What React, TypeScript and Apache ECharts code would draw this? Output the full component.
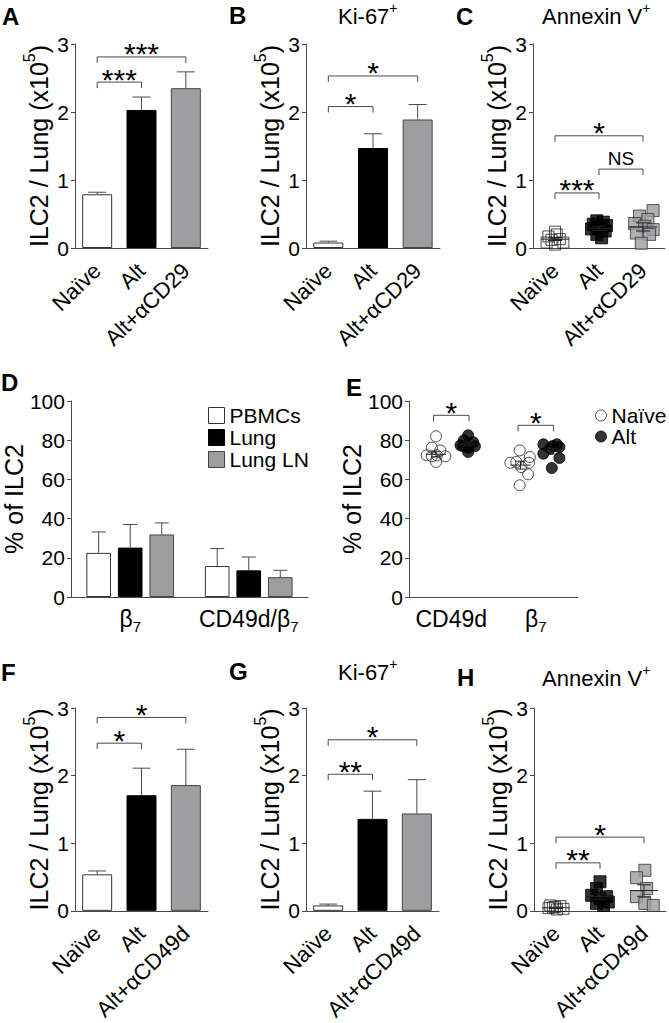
import React, { useEffect, useRef } from 'react';
import * as echarts from 'echarts';

const FONT = 'Arial, "Liberation Sans", Helvetica, sans-serif';
const INK = '#000000';
const LINE = '#4a4a4a';
const WHITE = '#ffffff';
const BLACK = '#000000';
const GRAY_FILL = '#9e9ea1';

// ---------- categories ----------
const catsCD29 = ['Naïve', 'Alt', 'Alt+αCD29'];
const catsCD49d = ['Naïve', 'Alt', 'Alt+αCD49d'];
const catsD = ['β7', 'CD49d/β7'];
const catsE = ['CD49d', 'β7'];
const countMax = 3;
const pctMax = 100;

// ---------- bar panels (mean, SEM) ----------
const aMean = [0.79, 2.03, 2.35];
const aSem = [0.03, 0.19, 0.24];
const bMean = [0.08, 1.47, 1.89];
const bSem = [0.02, 0.21, 0.22];
const fMean = [0.54, 1.71, 1.86];
const fSem = [0.05, 0.40, 0.53];
const gMean = [0.08, 1.36, 1.44];
const gSem = [0.02, 0.41, 0.50];

// ---------- panel D ----------
const dNames = ['PBMCs', 'Lung', 'Lung LN'];
const dPBMCs = [22.5, 15.8];
const dPBMCsSem = [10.7, 8.9];
const dLung = [25.2, 13.6];
const dLungSem = [11.8, 6.8];
const dLungLN = [31.9, 10.1];
const dLungLNSem = [5.9, 3.5];

// ---------- panel C points: [jitter, value] ----------
const cNaive = [[0, 0.24], [-0.15, 0.17], [0.11, 0.13], [-0.08, 0.12], [0.19, 0.08], [-0.19, 0.08], [0, 0.05], [0.04, 0.2]];
const cAlt = [[-0.05, 0.4], [0.1, 0.38], [-0.13, 0.35], [0.17, 0.33], [-0.02, 0.3], [-0.17, 0.28], [0.14, 0.25], [-0.05, 0.2], [0.06, 0.15]];
const cAltAb = [[0.23, 0.55], [-0.08, 0.47], [0.11, 0.42], [-0.19, 0.36], [0.04, 0.32], [0.23, 0.27], [-0.15, 0.22], [0.15, 0.2], [-0.04, 0.07]];
const cMean = [0.13, 0.29, 0.31];
const cSem = [0.02, 0.03, 0.06];

// ---------- panel H points ----------
const hNaive = [[-0.13, 0.08], [0.1, 0.07], [-0.02, 0.06], [-0.17, 0.04], [0.17, 0.03], [0.02, 0.02], [-0.07, 0.05]];
const hAlt = [[0, 0.43], [-0.08, 0.33], [-0.19, 0.23], [0.15, 0.21], [0, 0.18], [0.19, 0.13], [-0.08, 0.11], [0.08, 0.08]];
const hAltAb = [[0.02, 0.6], [-0.17, 0.49], [0.06, 0.33], [-0.17, 0.21], [0.02, 0.11], [0.21, 0.08]];
const hMean = [0.045, 0.21, 0.3];
const hSem = [0.01, 0.04, 0.085];

// ---------- panel E points: [jitter, value] ----------
const eNaiveCD49d = [[-0.18, 82.0], [-0.23, 76.2], [-0.13, 74.8], [-0.29, 72.3], [-0.17, 72.3], [-0.07, 71.8], [-0.23, 71.8], [-0.18, 68.9]];
const eAltCD49d = [[0.2, 82.5], [0.15, 80.0], [0.26, 79.0], [0.11, 77.4], [0.28, 76.9], [0.2, 76.2], [0.14, 77.0], [0.2, 74.0]];
const eNaiveB7 = [[-0.19, 74.8], [-0.07, 71.4], [-0.3, 68.5], [-0.23, 68.9], [-0.08, 68.5], [-0.17, 66.3], [-0.09, 62.6], [-0.19, 57.0]];
const eAltB7 = [[0.09, 77.9], [0.25, 77.9], [0.17, 75.7], [0.28, 76.5], [0.09, 73.1], [0.28, 70.9], [0.19, 65.8], [0.2, 77.0]];
const eNaiveMean = [72.8, 67.3];
const eNaiveSem = [1.3, 2.0];
const eAltMean = [78.0, 74.4];
const eAltSem = [1.0, 1.5];
const eNaiveOff = -0.18;
const eAltOff = 0.2;

// ---------- significance brackets: [from, to, height, label] ----------
type Bracket = [number, number, number, string];
const bracketsA: Bracket[] = [[0, 1, 2.44, '***'], [0, 2, 2.81, '***']];
const bracketsB: Bracket[] = [[0, 1, 2.08, '*'], [0, 2, 2.53, '*']];
const bracketsC: Bracket[] = [[0, 1, 0.81, '***'], [1, 2, 1.16, 'NS'], [0, 2, 1.65, '*']];
const bracketsE: Bracket[] = [[-0.21, 0.21, 92.7, '*'], [0.79, 1.21, 87.6, '*']];
const bracketsF: Bracket[] = [[0, 1, 2.48, '*'], [0, 2, 2.86, '*']];
const bracketsG: Bracket[] = [[0, 1, 2.02, '**'], [0, 2, 2.53, '*']];
const bracketsH: Bracket[] = [[0, 1, 0.71, '**'], [0, 2, 1.09, '*']];

// ---------- layout ----------
const grids = [
  { left: 75, top: 44, width: 133, height: 204 },
  { left: 306, top: 44, width: 134, height: 204 },
  { left: 533, top: 44, width: 132, height: 204 },
  { left: 67, top: 401, width: 241, height: 196 },
  { left: 409, top: 401, width: 169, height: 196 },
  { left: 75, top: 708, width: 133, height: 203 },
  { left: 306, top: 708, width: 133, height: 203 },
  { left: 534, top: 708, width: 132, height: 203 },
];
const panelCats = [catsCD29, catsCD29, catsCD29, catsD, catsE, catsCD49d, catsCD49d, catsCD49d];
const letters = ['A', 'B', 'C', 'D', 'E', 'F', 'G', 'H'];
const letterPos = [[2, 4], [229, 3], [456, 4], [1, 370], [346, 375], [1, 660], [229, 659], [457, 665]];
const D_CAT_GAP = 0.26;
const D_BAR_GAP = 0.28;
const barFills = [WHITE, BLACK, GRAY_FILL];
const barBorders = ['#333333', '#000000', '#444444'];

function bracketSeries(panel: number, list: Bracket[]) {
  return {
    type: 'custom', name: 'brk' + panel, xAxisIndex: 2 * panel + 1, yAxisIndex: panel, silent: true, z: 6,
    data: list.map((b) => [b[0], b[1], b[2]]),
    renderItem: (params: any, api: any) => {
      const b = list[params.dataIndex];
      const p1 = api.coord([api.value(0), api.value(2)]);
      const p2 = api.coord([api.value(1), api.value(2)]);
      const drop = 6;
      const isNS = b[3] === 'NS';
      return {
        type: 'group',
        children: [
          { type: 'polyline', shape: { points: [[p1[0], p1[1] + drop], [p1[0], p1[1]], [p2[0], p2[1]], [p2[0], p2[1] + drop]] }, style: { stroke: LINE, lineWidth: 1, fill: null } },
          { type: 'text', x: (p1[0] + p2[0]) / 2, y: p1[1] + (isNS ? -11 : -3), style: { text: b[3], fontSize: isNS ? 19 : 30, fontFamily: FONT, fill: INK, align: 'center', verticalAlign: 'middle' } },
        ],
      };
    },
  };
}

function errorBarSeries(panel: number, means: number[], sems: number[], slot = 0, slots = 1) {
  return {
    type: 'custom', name: 'err' + panel + '-' + slot, xAxisIndex: 2 * panel + 1, yAxisIndex: panel, silent: true, z: 4,
    data: means.map((m, i) => [i, m, sems[i]]),
    renderItem: (params: any, api: any) => {
      const x = api.value(0), m = api.value(1), s = api.value(2);
      const base = api.coord([x, m]);
      const tip = api.coord([x, m + s]);
      let off = 0;
      if (slots > 1) {
        const band = api.size([1, 0])[0];
        const w = (band * (1 - D_CAT_GAP)) / (slots + (slots - 1) * D_BAR_GAP);
        off = (slot - (slots - 1) / 2) * w * (1 + D_BAR_GAP);
      }
      const cx = base[0] + off;
      const cap = slots > 1 ? 7 : 9;
      return {
        type: 'group',
        children: [
          { type: 'line', shape: { x1: cx, y1: base[1], x2: cx, y2: tip[1] }, style: { stroke: LINE, lineWidth: 1 } },
          { type: 'line', shape: { x1: cx - cap, y1: tip[1], x2: cx + cap, y2: tip[1] }, style: { stroke: LINE, lineWidth: 1 } },
        ],
      };
    },
  };
}

function meanSemSeries(panel: number, xs: number[], means: number[], sems: number[], half: number, cap: number) {
  return {
    type: 'custom', name: 'ms' + panel + '_' + xs[0], xAxisIndex: 2 * panel + 1, yAxisIndex: panel, silent: true, z: 5,
    data: means.map((m, i) => [xs[i], m, sems[i]]),
    renderItem: (params: any, api: any) => {
      const x = api.value(0), m = api.value(1), s = api.value(2);
      const c = api.coord([x, m]);
      const hi = api.coord([x, m + s]);
      const lo = api.coord([x, m - s]);
      const st = { stroke: '#222222', lineWidth: 1 };
      return {
        type: 'group',
        children: [
          { type: 'line', shape: { x1: c[0] - half, y1: c[1], x2: c[0] + half, y2: c[1] }, style: st },
          { type: 'line', shape: { x1: c[0], y1: hi[1], x2: c[0], y2: lo[1] }, style: st },
          { type: 'line', shape: { x1: c[0] - cap, y1: hi[1], x2: c[0] + cap, y2: hi[1] }, style: st },
          { type: 'line', shape: { x1: c[0] - cap, y1: lo[1], x2: c[0] + cap, y2: lo[1] }, style: st },
        ],
      };
    },
  };
}

function barSeries(panel: number, means: number[]) {
  return {
    type: 'bar', name: 'bar' + panel, xAxisIndex: 2 * panel, yAxisIndex: panel, silent: true, barWidth: 30, z: 2,
    data: means.map((v, i) => ({ value: v, itemStyle: { color: barFills[i], borderColor: barBorders[i], borderWidth: 1 } })),
  };
}

function scatterSeries(name: string, panel: number, cat: number, pts: number[][], style: any, symbol: string, size: number) {
  return {
    type: 'scatter', name, xAxisIndex: 2 * panel + 1, yAxisIndex: panel, silent: true, z: 3,
    symbol, symbolSize: size,
    data: pts.map(([o, v]) => [cat + o, v]),
    itemStyle: style,
  };
}

const openStyle = { color: 'rgba(255,255,255,0)', borderColor: '#222222', borderWidth: 1 };
const blackStyle = { color: BLACK, borderColor: BLACK, borderWidth: 1 };
const grayStyle = { color: GRAY_FILL, borderColor: '#333333', borderWidth: 1 };

const countName = '{a|ILC2 / Lung (x10}{s|5}{a|)}';
const countNameStyle = {
  rich: {
    a: { fontSize: 25, fontFamily: FONT, color: INK, lineHeight: 30, verticalAlign: 'bottom' },
    s: { fontSize: 16, fontFamily: FONT, color: INK, lineHeight: 16, verticalAlign: 'top' },
  },
};

function buildOption() {
  const xAxis: any[] = [];
  const yAxis: any[] = [];
  panelCats.forEach((cats, p) => {
    const isDE = p === 3 || p === 4;
    xAxis.push({
      type: 'category', gridIndex: p, data: cats,
      axisLine: { onZero: false, lineStyle: { color: LINE, width: 1 } },
      axisTick: { alignWithLabel: true, length: 5, lineStyle: { color: LINE } },
      axisLabel: isDE
        ? {
            interval: 0, margin: 10, color: INK, fontFamily: FONT, fontSize: 23,
            formatter: (v: string) => (v.indexOf('β7') >= 0 ? '{n|' + v.replace('β7', 'β') + '}{s|7}' : '{n|' + v + '}'),
            rich: {
              n: { fontSize: 23, fontFamily: FONT, color: INK, lineHeight: 24, verticalAlign: 'top' },
              s: { fontSize: 15, fontFamily: FONT, color: INK, lineHeight: 16, padding: [12, 0, 0, 0], verticalAlign: 'top' },
            },
          }
        : { interval: 0, rotate: 44, margin: 19, padding: [30, 0, 0, 0], color: INK, fontFamily: FONT, fontSize: 22 },
    });
    xAxis.push({ type: 'value', gridIndex: p, min: -0.5, max: cats.length - 0.5, show: false });
    yAxis.push({
      type: 'value', gridIndex: p, min: 0, max: isDE ? pctMax : countMax, interval: isDE ? 20 : 1,
      splitLine: { show: false },
      axisLine: { show: true, onZero: false, lineStyle: { color: LINE, width: 1 } },
      axisTick: { show: true, length: 4, lineStyle: { color: LINE } },
      axisLabel: { fontSize: 21, fontFamily: FONT, color: INK, margin: 6 },
      name: isDE ? '% of ILC2' : countName,
      nameLocation: 'middle',
      nameGap: isDE ? 30 : 24,
      nameTextStyle: isDE ? { fontSize: 25, fontFamily: FONT, color: INK } : countNameStyle,
    });
  });

  const series: any[] = [];
  const barPanels: [number, number[], number[], Bracket[]][] = [
    [0, aMean, aSem, bracketsA],
    [1, bMean, bSem, bracketsB],
    [5, fMean, fSem, bracketsF],
    [6, gMean, gSem, bracketsG],
  ];
  barPanels.forEach(([p, m, s, br]) => {
    series.push(barSeries(p, m));
    series.push(errorBarSeries(p, m, s));
    series.push(bracketSeries(p, br));
  });

  // C
  series.push(scatterSeries('c0', 2, 0, cNaive, openStyle, 'rect', 11));
  series.push(scatterSeries('c1', 2, 1, cAlt, blackStyle, 'rect', 12));
  series.push(scatterSeries('c2', 2, 2, cAltAb, grayStyle, 'rect', 12));
  series.push(meanSemSeries(2, [0, 1, 2], cMean, cSem, 14, 7));
  series.push(bracketSeries(2, bracketsC));

  // H
  series.push(scatterSeries('h0', 7, 0, hNaive, openStyle, 'rect', 11));
  series.push(scatterSeries('h1', 7, 1, hAlt, blackStyle, 'rect', 12));
  series.push(scatterSeries('h2', 7, 2, hAltAb, grayStyle, 'rect', 12));
  series.push(meanSemSeries(7, [0, 1, 2], hMean, hSem, 14, 7));
  series.push(bracketSeries(7, bracketsH));

  // D grouped bars
  const dVals = [dPBMCs, dLung, dLungLN];
  const dSems = [dPBMCsSem, dLungSem, dLungLNSem];
  dNames.forEach((n, i) => {
    series.push({
      type: 'bar', name: n, xAxisIndex: 6, yAxisIndex: 3, silent: true, z: 2,
      barCategoryGap: '26%', barGap: '28%',
      data: dVals[i],
      itemStyle: { color: barFills[i], borderColor: barBorders[i], borderWidth: 1 },
    });
    series.push(errorBarSeries(3, dVals[i], dSems[i], i, 3));
  });

  // E
  series.push({
    type: 'scatter', name: 'Naïve', xAxisIndex: 9, yAxisIndex: 4, silent: true, z: 3, symbol: 'circle', symbolSize: 11,
    data: [...eNaiveCD49d.map(([o, v]) => [0 + o, v]), ...eNaiveB7.map(([o, v]) => [1 + o, v])],
    itemStyle: openStyle,
  });
  series.push({
    type: 'scatter', name: 'Alt', xAxisIndex: 9, yAxisIndex: 4, silent: true, z: 3, symbol: 'circle', symbolSize: 11,
    data: [...eAltCD49d.map(([o, v]) => [0 + o, v]), ...eAltB7.map(([o, v]) => [1 + o, v])],
    itemStyle: blackStyle,
  });
  series.push(meanSemSeries(4, [0 + eNaiveOff, 1 + eNaiveOff], eNaiveMean, eNaiveSem, 10, 5));
  series.push(meanSemSeries(4, [0 + eAltOff, 1 + eAltOff], eAltMean, eAltSem, 10, 5));
  series.push(bracketSeries(4, bracketsE));

  const supRich = {
    a: { fontSize: 22, fontWeight: 'normal', fontFamily: FONT, color: INK, lineHeight: 26, verticalAlign: 'bottom' },
    s: { fontSize: 14, fontWeight: 'normal', fontFamily: FONT, color: INK, lineHeight: 14, verticalAlign: 'top' },
  };
  const title: any[] = letters.map((l, i) => ({
    text: l, left: letterPos[i][0], top: letterPos[i][1], padding: 0,
    textStyle: { fontSize: 24, fontWeight: 'bold', fontFamily: FONT, color: INK },
  }));
  const subTitle = (text: string, left: number, top: number) => ({
    text, left, top, padding: 0, textStyle: { fontWeight: 'normal', fontSize: 22, fontFamily: FONT, color: INK, rich: supRich },
  });
  title.push(subTitle('{a|Ki-67}{s|+}', 338, 1));
  title.push(subTitle('{a|Annexin V}{s|+}', 542, 1));
  title.push(subTitle('{a|Ki-67}{s|+}', 338, 657));
  title.push(subTitle('{a|Annexin V}{s|+}', 542, 663));

  return {
    animation: false,
    backgroundColor: '#ffffff',
    title,
    grid: grids,
    xAxis,
    yAxis,
    legend: [
      {
        orient: 'vertical', left: 203, top: 400, itemWidth: 16, itemHeight: 16, itemGap: 1, selectedMode: false,
        textStyle: { fontSize: 21, fontFamily: FONT, color: INK, lineHeight: 21 },
        data: dNames.map((n, i) => ({ name: n, icon: 'rect', itemStyle: { color: barFills[i], borderColor: barBorders[i], borderWidth: 1 } })),
      },
      {
        orient: 'vertical', left: 590, top: 400, itemWidth: 11, itemHeight: 11, itemGap: 0, selectedMode: false,
        textStyle: { fontSize: 21, fontFamily: FONT, color: INK, lineHeight: 20 },
        data: [
          { name: 'Naïve', icon: 'circle', itemStyle: { color: 'rgba(255,255,255,0)', borderColor: '#222222', borderWidth: 1 } },
          { name: 'Alt', icon: 'circle', itemStyle: { color: BLACK, borderColor: BLACK, borderWidth: 1 } },
        ],
      },
    ],
    series,
  };
}

export default function App() {
  const ref = useRef<HTMLDivElement>(null);
  useEffect(() => {
    const chart = echarts.init(ref.current as HTMLDivElement, null, { renderer: 'svg' });
    chart.setOption(buildOption() as any);
    return () => chart.dispose();
  }, []);
  return <div ref={ref} style={{ position: 'absolute', left: 0, top: 0, width: 669, height: 1023, background: '#ffffff' }} />;
}
